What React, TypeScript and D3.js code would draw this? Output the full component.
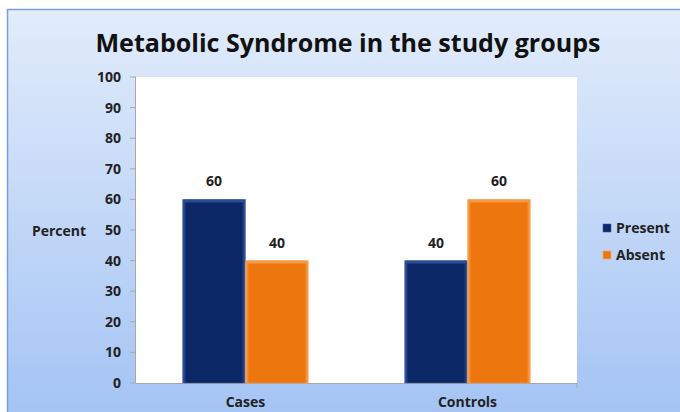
import { useMemo } from 'react'
import * as d3 from 'd3'

const groups = ['Cases', 'Controls']
const series = ['Present', 'Absent']
const present = [60, 40]
const absent = [40, 60]
const yTicks = [0, 10, 20, 30, 40, 50, 60, 70, 80, 90, 100]

const colors: Record<string, { dark: string; light: string }> = {
  Present: { dark: '#0b2766', light: '#3a5ca6' },
  Absent: { dark: '#ee760f', light: '#f9a85a' },
}

const W = 680
const H = 412
const plot = { left: 136, right: 577, top: 77, bottom: 383 }

export default function App() {
  const { x, xs, y } = useMemo(() => {
    const x = d3
      .scaleBand<string>()
      .domain(groups)
      .range([plot.left, plot.right])
      .paddingInner(0.434)
      .paddingOuter(0.21)
    const xs = d3.scaleBand<string>().domain(series).range([0, x.bandwidth()])
    const y = d3.scaleLinear().domain([0, 100]).range([plot.bottom, plot.top])
    return { x, xs, y }
  }, [])

  const values: Record<string, number[]> = { Present: present, Absent: absent }
  const font = "'Open Sans', 'Noto Sans', sans-serif"

  return (
    <svg
      width={W}
      height={H}
      style={{ position: 'absolute', left: 0, top: 0 }}
      fontFamily={font}
    >
      <defs>
        <linearGradient id="bg" x1="0" y1="0" x2="0" y2="1">
          <stop offset="0" stopColor="#e2ecfb" />
          <stop offset="1" stopColor="#a3c3f4" />
        </linearGradient>
        {series.map((s) => (
          <linearGradient key={s} id={`g-${s}`} x1="0" y1="0" x2="1" y2="0">
            <stop offset="0" stopColor={colors[s].light} />
            <stop offset="0.06" stopColor={colors[s].dark} />
            <stop offset="0.94" stopColor={colors[s].dark} />
            <stop offset="1" stopColor={colors[s].light} />
          </linearGradient>
        ))}
      </defs>
      <rect width={W} height={H} fill="#fff" />
      <rect x={7.5} y={9.5} width={W} height={H} fill="url(#bg)" stroke="#7c9fd3" strokeWidth={1.5} />

      <text
        x={348}
        y={52}
        textAnchor="middle"
        fontSize={25}
        fontWeight="bold"
        fill="#111"
        fontFamily="'Open Sans', sans-serif"
        textLength={505}
        lengthAdjust="spacingAndGlyphs"
      >
        Metabolic Syndrome in the study groups
      </text>

      <rect
        x={plot.left}
        y={plot.top}
        width={plot.right - plot.left}
        height={plot.bottom - plot.top}
        fill="#fff"
      />

      {/* y axis */}
      <line x1={plot.left - 0.5} x2={plot.left - 0.5} y1={plot.top} y2={plot.bottom} stroke="#a8a8a8" />
      {yTicks.map((t) => (
        <g key={t}>
          <line x1={plot.left - 6} x2={plot.left} y1={y(t)} y2={y(t)} stroke="#a8a8a8" />
          <text
            x={plot.left - 15}
            y={y(t)}
            dy="0.35em"
            textAnchor="end"
            fontSize={14}
            fontWeight="bold"
            fill="#222"
          >
            {t}
          </text>
        </g>
      ))}
      <line x1={plot.left} x2={plot.right} y1={plot.bottom + 0.5} y2={plot.bottom + 0.5} stroke="#a8a8a8" />
      <line x1={plot.right} x2={plot.right} y1={plot.bottom} y2={plot.bottom + 5} stroke="#a8a8a8" />
      <text x={59} y={231} dy="0.35em" textAnchor="middle" fontSize={14} fontWeight="bold" fill="#222">
        Percent
      </text>

      {/* bars */}
      {groups.map((g, gi) => (
        <g key={g}>
          {series.map((s) => {
            const v = values[s][gi]
            const bx = (x(g) ?? 0) + (xs(s) ?? 0)
            const bw = xs.bandwidth()
            return (
              <g key={s}>
                <rect
                  x={bx}
                  y={y(v)}
                  width={bw}
                  height={y(0) - y(v)}
                  fill={`url(#g-${s})`}
                  stroke={colors[s].light}
                  strokeOpacity={0.6}
                  strokeWidth={0.8}
                />
                <rect x={bx + 2} y={y(v)} width={bw - 4} height={3} fill={colors[s].light} opacity={0.7} />
                <text
                  x={bx + bw / 2}
                  y={y(v) - 13}
                  textAnchor="middle"
                  fontSize={14}
                  fontWeight="bold"
                  fill="#222"
                >
                  {v}
                </text>
              </g>
            )
          })}
          <text
            x={(x(g) ?? 0) + x.bandwidth() / 2}
            y={407}
            textAnchor="middle"
            fontSize={14}
            fontWeight="bold"
            fill="#222"
          >
            {g}
          </text>
        </g>
      ))}

      {/* legend */}
      {series.map((s, i) => (
        <g key={s} transform={`translate(603, ${228 + i * 27})`}>
          <rect x={0} y={-4} width={8} height={8} fill={`url(#g-${s})`} stroke={colors[s].light} strokeWidth={0.6} />
          <text x={13} y={0} dy="0.35em" fontSize={14} fontWeight="bold" fill="#222">
            {s}
          </text>
        </g>
      ))}
    </svg>
  )
}
